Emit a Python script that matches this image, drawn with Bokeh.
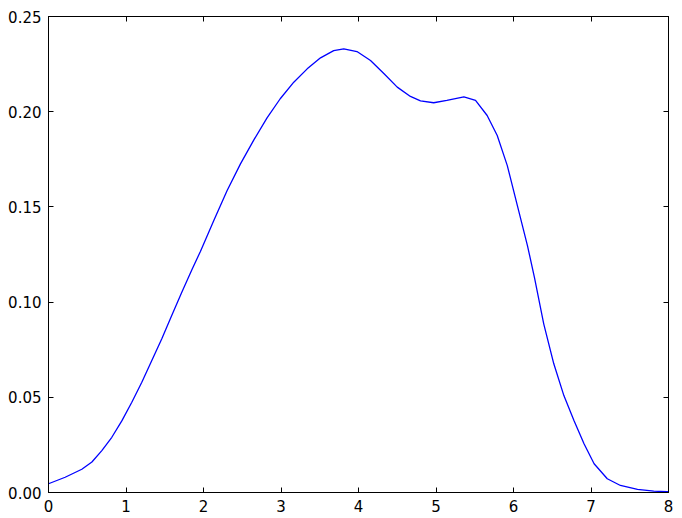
from bokeh.plotting import figure
from bokeh.models import LinearAxis, FixedTicker, Range1d, NumeralTickFormatter
from bokeh.embed import file_html
from bokeh.resources import INLINE

xs = [0.00, 0.215, 0.43, 0.56, 0.688, 0.817, 0.946, 1.075, 1.204, 1.333, 1.462,
      1.59, 1.72, 1.85, 1.96, 2.133, 2.305, 2.477, 2.65, 2.82, 2.99, 3.165,
      3.338, 3.51, 3.68, 3.81, 3.98, 4.155, 4.33, 4.50, 4.67, 4.80, 4.97, 5.14,
      5.36, 5.51, 5.66, 5.79, 5.92, 6.05, 6.18, 6.27, 6.39, 6.52, 6.65, 6.78,
      6.91, 7.04, 7.21, 7.38, 7.60, 7.81, 7.98, 8.00]
ys = [0.0046, 0.0080, 0.0122, 0.0160, 0.0220, 0.0290, 0.0376, 0.0474, 0.0579,
      0.0693, 0.0807, 0.0930, 0.1052, 0.1170, 0.1266, 0.1429, 0.1586, 0.1726,
      0.1852, 0.1968, 0.2068, 0.2155, 0.2225, 0.2283, 0.2321, 0.2330, 0.2316,
      0.2269, 0.2199, 0.2129, 0.2080, 0.2057, 0.2047, 0.2059, 0.2078, 0.2060,
      0.1980, 0.1875, 0.1717, 0.1507, 0.1297, 0.1130, 0.0886, 0.0676, 0.0509,
      0.0378, 0.0256, 0.0151, 0.0072, 0.0037, 0.0016, 0.0007, 0.0004, 0.0004]

x_ticks = [0, 1, 2, 3, 4, 5, 6, 7, 8]
y_ticks = [0.0, 0.05, 0.10, 0.15, 0.20, 0.25]

FONT = "DejaVu Sans"
FS = "15px"

p = figure(width=682, height=518, output_backend="svg", toolbar_location=None,
           x_range=Range1d(0, 8), y_range=Range1d(0, 0.25),
           min_border_left=48, min_border_right=14, min_border_top=16, min_border_bottom=26,
           x_axis_location="below", y_axis_location="left")
p.line(xs, ys, line_color="#0000ff", line_width=1.3, line_join="round")

p.grid.visible = False
p.outline_line_color = "black"
p.outline_line_width = 1
p.background_fill_color = "white"
p.border_fill_color = "white"

def style(ax, labels=True):
    ax.major_tick_in = 5
    ax.major_tick_out = 0
    ax.minor_tick_in = 0
    ax.minor_tick_out = 0
    ax.axis_line_color = "black"
    ax.major_tick_line_color = "black"
    ax.major_label_text_font = FONT
    ax.major_label_text_color = "black"
    ax.major_label_text_font_size = FS
    if labels:
        ax.major_label_standoff = 7
    else:
        ax.major_label_standoff = 0
        ax.major_label_overrides = {t: "" for t in ax.ticker.ticks}

xax = p.xaxis[0]
xax.ticker = FixedTicker(ticks=x_ticks)
style(xax)
yax = p.yaxis[0]
yax.ticker = FixedTicker(ticks=y_ticks)
yax.formatter = NumeralTickFormatter(format="0.00")
style(yax)

top = LinearAxis(ticker=FixedTicker(ticks=x_ticks))
style(top, labels=False)
p.add_layout(top, "above")
right = LinearAxis(ticker=FixedTicker(ticks=y_ticks))
style(right, labels=False)
p.add_layout(right, "right")

open("out.html", "w").write(file_html(p, INLINE))
